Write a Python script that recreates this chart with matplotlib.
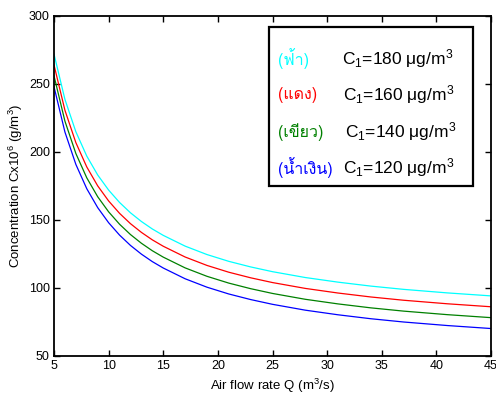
import matplotlib
matplotlib.use('Agg')
import matplotlib.pyplot as plt
from matplotlib import font_manager
from matplotlib.patches import Rectangle
from fontTools.ttLib import TTFont

# === Thai 対応フォントを探す ===
thai_family = None
for f in font_manager.fontManager.ttflist:
    try:
        cmap = TTFont(f.fname, fontNumber=0, lazy=True).getBestCmap()
    except Exception:
        continue
    if cmap and 0x0E1F in cmap and 0x0E49 in cmap:
        thai_family = f.name
        print('thai font:', f.name, f.fname)
        break
if thai_family is None:
    print('no thai font found')

# === フォント設定 ===
plt.rcParams['font.family'] = ['Liberation Sans', 'Noto Sans', 'DejaVu Sans']
plt.rcParams['mathtext.fontset'] = 'custom'
plt.rcParams['mathtext.rm'] = 'Liberation Sans'
plt.rcParams['mathtext.it'] = 'Liberation Sans:italic'

# === データ ===
flow_q = [5, 6, 7, 8, 9, 10, 11, 12, 13, 14, 15, 17, 19, 21, 23, 25, 28, 31, 34, 37, 41, 45]
conc_180 = [272, 238.7, 214.9, 197, 183.1, 172, 162.9, 155.3, 148.9, 143.4, 138.7, 130.8,
            124.6, 119.6, 115.5, 112, 107.7, 104.3, 101.4, 99, 96.4, 94.2]
conc_160 = [264, 230.7, 206.9, 189, 175.1, 164, 154.9, 147.3, 140.9, 135.4, 130.7, 122.8,
            116.6, 111.6, 107.5, 104, 99.7, 96.3, 93.4, 91, 88.4, 86.2]
conc_140 = [256, 222.7, 198.9, 181, 167.1, 156, 146.9, 139.3, 132.9, 127.4, 122.7, 114.8,
            108.6, 103.6, 99.5, 96, 91.7, 88.3, 85.4, 83, 80.4, 78.2]
conc_120 = [248, 214.7, 190.9, 173, 159.1, 148, 138.9, 131.3, 124.9, 119.4, 114.7, 106.8,
            100.6, 95.6, 91.5, 88, 83.7, 80.3, 77.4, 75, 72.4, 70.2]

series = [conc_180, conc_160, conc_140, conc_120]
colors = ['#00ffff', '#ff0000', '#008000', '#0000ff']
thai_labels = ['(ฟ้า)', '(แดง)', '(เขียว)', '(น้ำเงิน)']
c1_values = [180, 160, 140, 120]

# === 描画 ===
fig = plt.figure(figsize=(4.96, 3.96), dpi=100)
ax = fig.add_axes([54 / 496, 40 / 396, 437 / 496, 340 / 396])

for values, color in zip(series, colors):
    ax.plot(flow_q, values, color=color, linewidth=0.9)

ax.set_xlim(5, 45)
ax.set_ylim(50, 300)
ax.set_xticks(range(5, 46, 5))
ax.set_yticks(range(50, 301, 50))
ax.tick_params(direction='in', top=True, right=True, labelsize=9, length=4, width=1, pad=3)
for sp in ax.spines.values():
    sp.set_linewidth(1.3)

ax.set_xlabel('Air flow rate Q (m$^3$/s)', fontsize=9.5, labelpad=3)
ax.set_ylabel('Concentration Cx10$^6$ (g/m$^3$)', fontsize=9.5, labelpad=3)

# === 凡例ボックス ===
W, H = 496, 396
fig.patches.append(Rectangle((269 / W, 1 - 186 / H), 204 / W, 159 / H,
                             transform=fig.transFigure, fill=True, facecolor='white',
                             edgecolor='black', linewidth=1.6, zorder=5))
thai_fam = [thai_family, 'DejaVu Sans'] if thai_family else ['Noto Sans', 'DejaVu Sans']
rows_y = [59, 95, 132, 168]
c1_x = [342, 343, 345, 343]
for y, lab, color, c1, cx in zip(rows_y, thai_labels, colors, c1_values, c1_x):
    fig.text(278 / W, 1 - y / H, lab, color=color, fontsize=11.5, va='center', ha='left',
             family=thai_fam, zorder=6)
    fig.text(cx / W, 1 - y / H, f'C$_1$={c1} μg/m$^3$', color='black', fontsize=12.5,
             va='center', ha='left', zorder=6)

fig.savefig('out.png', dpi=100)
